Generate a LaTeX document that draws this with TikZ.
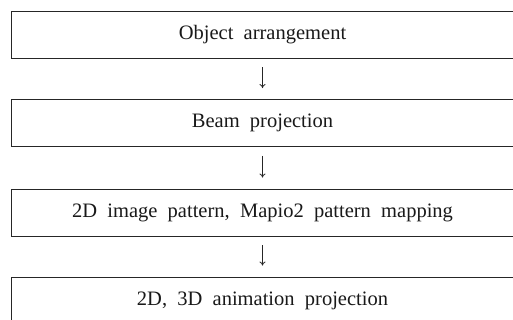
\documentclass[tikz,border=0pt]{standalone}
\usepackage{fontspec}
\setmainfont{Liberation Serif}
\usetikzlibrary{arrows.meta}
\begin{document}
\begin{tikzpicture}[x=1pt,y=1pt,
  stepbox/.style={draw=black!85,line width=0.9pt,minimum width=503pt,minimum height=47pt,
    inner sep=0pt,font=\fontsize{20.5}{24}\selectfont,text=black!90},
  flow/.style={draw=black!85,line width=0.8pt,-{To[length=4pt,width=6pt]},
    shorten <=9pt,shorten >=11pt}]
\useasboundingbox (0,0) rectangle (513,-320);
\clip (0,0) rectangle (513,-320);
\fill[white] (0,0) rectangle (513,-320);
\node[stepbox] (b1) at (262.5,-34.5) {Object\ \ arrangement};
\node[stepbox] (b2) at (262.5,-123) {Beam\ \ projection};
\node[stepbox] (b3) at (262.5,-212.5) {2D\ \ image\ \ pattern,\ \ Mapio2\ \ pattern\ \ mapping};
\node[stepbox] (b4) at (262.5,-300.5) {2D,\ \ 3D\ \ animation\ \ projection};
\draw[flow] (b1.south) -- (b2.north);
\draw[flow] (b2.south) -- (b3.north);
\draw[flow] (b3.south) -- (b4.north);
\end{tikzpicture}
\end{document}
